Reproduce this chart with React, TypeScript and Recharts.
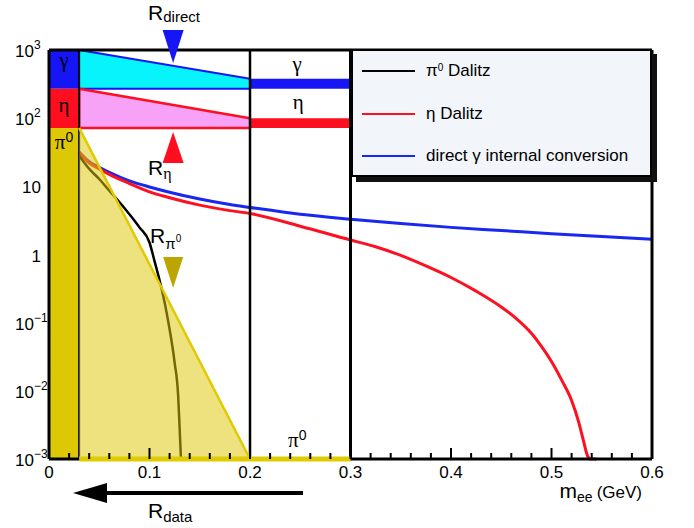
import React from 'react';
import {
  ComposedChart, XAxis, YAxis, Line, Area, Scatter, ReferenceArea, ReferenceLine, ReferenceDot, Legend,
} from 'recharts';

// ---- data ----
const pi0Mass = [0.03, 0.04, 0.05, 0.06, 0.07, 0.08, 0.09, 0.1, 0.105, 0.11, 0.115, 0.12, 0.125, 0.1285, 0.13, 0.1313];
const pi0Dalitz = [28, 18, 12.8, 8.6, 5.9, 3.9, 2.5, 1.5, 0.8, 0.42, 0.2, 0.08, 0.026, 0.0085, 0.0028, 0.001];

const etaMass = [0.03, 0.04, 0.05, 0.06, 0.08, 0.1, 0.12, 0.15, 0.18, 0.2, 0.25, 0.3, 0.325, 0.35, 0.375, 0.4, 0.425, 0.45, 0.465, 0.48, 0.49, 0.5, 0.51, 0.52, 0.527, 0.532, 0.536, 0.539, 0.545];
const etaDalitz = [31, 22, 18, 15, 11, 8.3, 6.8, 5.3, 4.4, 4.0, 2.6, 1.63, 1.3, 0.97, 0.68, 0.46, 0.29, 0.17, 0.115, 0.07, 0.045, 0.027, 0.0145, 0.0072, 0.0035, 0.0018, 0.0011, 0.001, 0.001];

const gammaMass = [0.03, 0.04, 0.05, 0.06, 0.08, 0.1, 0.12, 0.15, 0.18, 0.2, 0.25, 0.3, 0.35, 0.4, 0.45, 0.5, 0.55, 0.6];
const gammaConv = [32, 23, 19, 16, 12, 9.8, 8.2, 6.5, 5.4, 4.9, 3.9, 3.3, 2.85, 2.5, 2.25, 2.02, 1.83, 1.67];

// ratio regions (mass edges, upper/lower values)
const regionMass = [0.03, 0.2];
const directUpper = [1000, 380];
const directLower = [270, 270];
const etaUpper = [270, 100];
const etaLower = [72, 72];
const pi0Upper = [72, 0.001];
const pi0Floor = 0.001;

const xTicks = [0, 0.02, 0.04, 0.06, 0.08, 0.1, 0.12, 0.14, 0.16, 0.18, 0.2, 0.22, 0.24, 0.26, 0.28, 0.3,
  0.32, 0.34, 0.36, 0.38, 0.4, 0.42, 0.44, 0.46, 0.48, 0.5, 0.52, 0.54, 0.56, 0.58, 0.6];
const xTickLabels = ['0', '0.1', '0.2', '0.3', '0.4', '0.5', '0.6'];
const yTicks = [0.001, 0.01, 0.1, 1, 10, 100, 1000];
const yTickBase = ['10', '10', '10', '1', '10', '10', '10'];
const yTickExp = ['\u22123', '\u22122', '\u22121', '', '', '2', '3'];

const legendNames = ['\u03c0', '\u03b7 Dalitz', 'direct \u03b3 internal conversion'];
const legendColors = ['#000000', '#fd1020', '#1828ee'];

const BLUE = '#1515f5';
const RED = '#fe0f1f';
const CYAN = '#08f4fc';
const PINK = '#f7a1f7';
const YEL = '#dcc805';
const YEL_LINE = '#e0cb00';
const OLIVE = '#bba500';
const SANS = '"Liberation Sans", Arial, sans-serif';
const SERIF = '"Liberation Serif", "DejaVu Serif", serif';

const pi0Data = pi0Mass.map((x, i) => ({ x, y: pi0Dalitz[i] }));
const etaData = etaMass.map((x, i) => ({ x, y: etaDalitz[i] }));
const gammaData = gammaMass.map((x, i) => ({ x, y: gammaConv[i] }));
const directData = regionMass.map((x, i) => ({ x, r: [directLower[i], directUpper[i]] }));
const etaRegion = regionMass.map((x, i) => ({ x, r: [etaLower[i], etaUpper[i]] }));
const pi0Region = regionMass.map((x, i) => ({ x, r: [pi0Floor, pi0Upper[i]] }));
const pi0Base = [{ x: 0.03, y: pi0Floor }, { x: 0.3, y: pi0Floor }];
const tickMarks = xTicks.filter((v) => v > 0 && v < 0.6).map((v) => ({ x: v, y: pi0Floor, major: Math.round(v * 50) % 5 === 0 }));

const TickShape = (p: any) => {
  const len = p.payload && p.payload.major ? 11 : 6;
  return <rect x={p.cx - 1} y={p.cy - len} width={2} height={len} fill="#000" />;
};

const renderXTick = (props: any) => {
  const { x, y, payload } = props;
  const idx = Math.round(payload.value * 50);
  if (idx % 5 !== 0) return <g />;
  return (
    <text x={x} y={Number(y) + 19} textAnchor="middle" fontSize={17} fontFamily={SANS} fill="#000">
      {xTickLabels[idx / 5]}
    </text>
  );
};

const renderYTick = (props: any) => {
  const { x, y, payload } = props;
  const i = yTicks.findIndex((t) => Math.abs(Math.log10(t) - Math.log10(payload.value)) < 1e-6);
  if (i < 0) return <g />;
  const exp = yTickExp[i];
  if (exp) {
    return (
      <text x={x - 26} y={y + 7} textAnchor="start" fontSize={17} fontFamily={SANS} fill="#000">
        {yTickBase[i]}
        <tspan dy={-8} fontSize={12}>{exp}</tspan>
      </text>
    );
  }
  return (
    <text x={x} y={y + 7} textAnchor="end" fontSize={17} fontFamily={SANS} fill="#000">
      {yTickBase[i]}
    </text>
  );
};

const LegendBox = () => (
  <div
    style={{
      position: 'relative', width: 301, height: 128, boxSizing: 'border-box',
      border: '2px solid #000', background: '#f2f5f9', boxShadow: '5px 5px 0 #111',
      fontFamily: SANS, fontSize: 17, color: '#000',
    }}
  >
    {legendNames.map((n, i) => (
      <div key={i} style={{ position: 'absolute', left: 0, top: 10 + i * 42.5, height: 20, width: 296 }}>
        <div style={{ position: 'absolute', left: 9, top: 9, width: 53, height: 2, background: legendColors[i] }} />
        <div style={{ position: 'absolute', left: 73, top: 0, lineHeight: '20px', whiteSpace: 'nowrap' }}>
          {n}
          {i === 0 && (
            <>
              <sup style={{ fontSize: 10, verticalAlign: 'top', lineHeight: '14px' }}>0</sup>
              {' Dalitz'}
            </>
          )}
        </div>
      </div>
    ))}
  </div>
);

export default function App() {
  return (
    <div style={{ position: 'absolute', left: 0, top: 0 }}>
      <ComposedChart width={694} height={528} margin={{ top: 50, right: 42, bottom: 39, left: 0 }}>
        <XAxis
          type="number" dataKey="x" domain={[0, 0.6]} ticks={xTicks}
          tick={renderXTick} tickLine={false} tickSize={0} tickMargin={0} height={30} interval={0}
          axisLine={{ stroke: '#000', strokeWidth: 3 }}
        />
        <YAxis
          type="number" scale="log" domain={[0.001, 1000]} ticks={yTicks}
          tick={renderYTick} tickLine={false} tickSize={0} tickMargin={8} width={49} interval={0}
          axisLine={{ stroke: '#000', strokeWidth: 3 }}
        />

        {/* left column blocks */}
        <ReferenceArea x1={0} x2={0.03} y1={270} y2={1000} fill={BLUE} fillOpacity={1} stroke="none" ifOverflow="visible" />
        <ReferenceArea x1={0} x2={0.03} y1={72} y2={270} fill={RED} fillOpacity={1} stroke="none" ifOverflow="visible" />
        <ReferenceArea x1={0} x2={0.03} y1={0.001} y2={72} fill={YEL} fillOpacity={1} stroke="none" ifOverflow="visible" />

        {/* ratio triangles */}
        <Area data={directData} dataKey="r" type="linear" fill={CYAN} fillOpacity={1} stroke={BLUE} strokeWidth={2}
          isAnimationActive={false} dot={false} activeDot={false} legendType="none" />
        <Area data={etaRegion} dataKey="r" type="linear" fill={PINK} fillOpacity={1} stroke={RED} strokeWidth={2.5}
          isAnimationActive={false} dot={false} activeDot={false} legendType="none" />
        <ReferenceLine segment={[{ x: 0.03, y: 72 }, { x: 0.03, y: 270 }]} stroke={RED} strokeWidth={2.5} />

        {/* bars between 0.2 and 0.3 */}
        <ReferenceArea x1={0.2} x2={0.3} y1={270} y2={380} fill={BLUE} fillOpacity={1} stroke="none" />
        <ReferenceArea x1={0.2} x2={0.3} y1={72} y2={100} fill={RED} fillOpacity={1} stroke="none" />

        {/* curves */}
        <Line data={gammaData} dataKey="y" type="monotone" stroke={legendColors[2]} strokeWidth={3} dot={false}
          activeDot={false} isAnimationActive={false} name="direct gamma internal conversion" />
        <Line data={etaData} dataKey="y" type="monotone" stroke={legendColors[1]} strokeWidth={3} dot={false}
          activeDot={false} isAnimationActive={false} name="eta Dalitz" />
        <Line data={pi0Data} dataKey="y" type="monotone" stroke={legendColors[0]} strokeWidth={2.5} dot={false}
          activeDot={false} isAnimationActive={false} name="pi0 Dalitz" />

        {/* pi0 region (translucent, above curves) */}
        <Area data={pi0Region} dataKey="r" type="linear" fill={YEL} fillOpacity={0.52} stroke={YEL_LINE} strokeWidth={2.5}
          isAnimationActive={false} dot={false} activeDot={false} legendType="none" zIndex={450} />

        <Line data={pi0Base} dataKey="y" type="linear" stroke={YEL_LINE} strokeWidth={5} dot={false} activeDot={false}
          isAnimationActive={false} legendType="none" zIndex={550} />

        {/* inward x-axis tick marks */}
        <Scatter data={tickMarks} dataKey="y" shape={TickShape} isAnimationActive={false} legendType="none" zIndex={700} />

        {/* frame */}
        <ReferenceLine x={0.03} stroke="#000" strokeWidth={2} />
        <ReferenceLine x={0.2} stroke="#000" strokeWidth={2.5} />
        <ReferenceLine x={0.3} stroke="#000" strokeWidth={3} />
        <ReferenceLine x={0.6} stroke="#000" strokeWidth={3} />
        <ReferenceLine y={1000} stroke="#000" strokeWidth={3} />

        {/* annotations */}
        <ReferenceDot x={0.1235} y={645} ifOverflow="visible" shape={(p: any) => (
          <g>
            <polygon points={`${p.cx - 10.5},${p.cy - 33} ${p.cx + 10.5},${p.cy - 33} ${p.cx},${p.cy}`} fill={BLUE} />
            <text x={p.cx - 25} y={p.cy - 43} fontSize={21} fontFamily={SANS} fill="#000">
              R<tspan dy={2} fontSize={15}>direct</tspan>
            </text>
          </g>
        )} />
        <ReferenceDot x={0.1235} y={62.7} ifOverflow="visible" shape={(p: any) => (
          <g>
            <polygon points={`${p.cx - 10.5},${p.cy + 31} ${p.cx + 10.5},${p.cy + 31} ${p.cx},${p.cy}`} fill={RED} />
            <text x={p.cx - 25} y={p.cy + 43} fontSize={21} fontFamily={SANS} fill="#000">
              R<tspan dy={4} fontSize={16} fontFamily={SERIF}>{'\u03b7'}</tspan>
            </text>
          </g>
        )} />
        <ReferenceDot x={0.1235} y={0.323} ifOverflow="visible" shape={(p: any) => (
          <g>
            <polygon points={`${p.cx - 10},${p.cy - 31} ${p.cx + 10},${p.cy - 31} ${p.cx},${p.cy}`} fill={OLIVE} />
            <text x={p.cx - 23} y={p.cy - 45} fontSize={21} fontFamily={SANS} fill="#000">
              R<tspan dy={6} fontSize={15}>{'\u03c0'}</tspan><tspan dy={-7} fontSize={10}>0</tspan>
            </text>
          </g>
        )} />
        <ReferenceDot x={0.0239} y={3.17e-4} ifOverflow="visible" shape={(p: any) => (
          <g>
            <line x1={p.cx + 30} x2={p.cx + 230} y1={p.cy} y2={p.cy} stroke="#000" strokeWidth={4} />
            <polygon points={`${p.cx},${p.cy} ${p.cx + 34},${p.cy - 10} ${p.cx + 34},${p.cy + 10}`} fill="#000" />
            <text x={p.cx + 75} y={p.cy + 25} fontSize={21} fontFamily={SANS} fill="#000">
              R<tspan dy={4} fontSize={15}>data</tspan>
            </text>
          </g>
        )} />
        <ReferenceDot x={0.51} y={2.68e-4} ifOverflow="visible" shape={(p: any) => (
          <text x={p.cx - 2} y={p.cy} fontSize={21} fontFamily={SANS} fill="#000">
            m<tspan dy={4} fontSize={14}>ee</tspan><tspan dx={4} dy={-4} fontSize={17}>(GeV)</tspan>
          </text>
        )} />
        <ReferenceDot x={0.25} y={0.001} ifOverflow="visible" shape={(p: any) => (
          <text x={p.cx - 3} y={p.cy - 12} textAnchor="middle" fontSize={21} fontFamily={SERIF} fill="#000">
            {'\u03c0'}<tspan dy={-7} fontSize={14} fontFamily={SANS}>0</tspan>
          </text>
        )} />
        <ReferenceDot x={0.25} y={380} ifOverflow="visible" shape={(p: any) => (
          <text x={p.cx - 3} y={p.cy - 8} textAnchor="middle" fontSize={21} fontFamily={SERIF} fill="#000">{'\u03b3'}</text>
        )} />
        <ReferenceDot x={0.25} y={100} ifOverflow="visible" shape={(p: any) => (
          <text x={p.cx - 2} y={p.cy - 9} textAnchor="middle" fontSize={21} fontFamily={SERIF} fill="#000">{'\u03b7'}</text>
        )} />
        <ReferenceDot x={0.015} y={520} ifOverflow="visible" shape={(p: any) => (
          <text x={p.cx} y={p.cy - 2} textAnchor="middle" fontSize={21} fontFamily={SERIF} fill="#000">{'\u03b3'}</text>
        )} />
        <ReferenceDot x={0.015} y={139} ifOverflow="visible" shape={(p: any) => (
          <text x={p.cx} y={p.cy + 4} textAnchor="middle" fontSize={21} fontFamily={SERIF} fill="#000">{'\u03b7'}</text>
        )} />
        <ReferenceDot x={0.015} y={72} ifOverflow="visible" shape={(p: any) => (
          <text x={p.cx} y={p.cy + 21} textAnchor="middle" fontSize={21} fontFamily={SERIF} fill="#000">
            {'\u03c0'}<tspan dy={-7} fontSize={14} fontFamily={SANS}>0</tspan>
          </text>
        )} />

        <Legend
          verticalAlign="middle" align="center" layout="horizontal"
          wrapperStyle={{ left: 351, top: 49, width: 303, height: 130 }}
          content={() => <LegendBox />}
        />
      </ComposedChart>
    </div>
  );
}
